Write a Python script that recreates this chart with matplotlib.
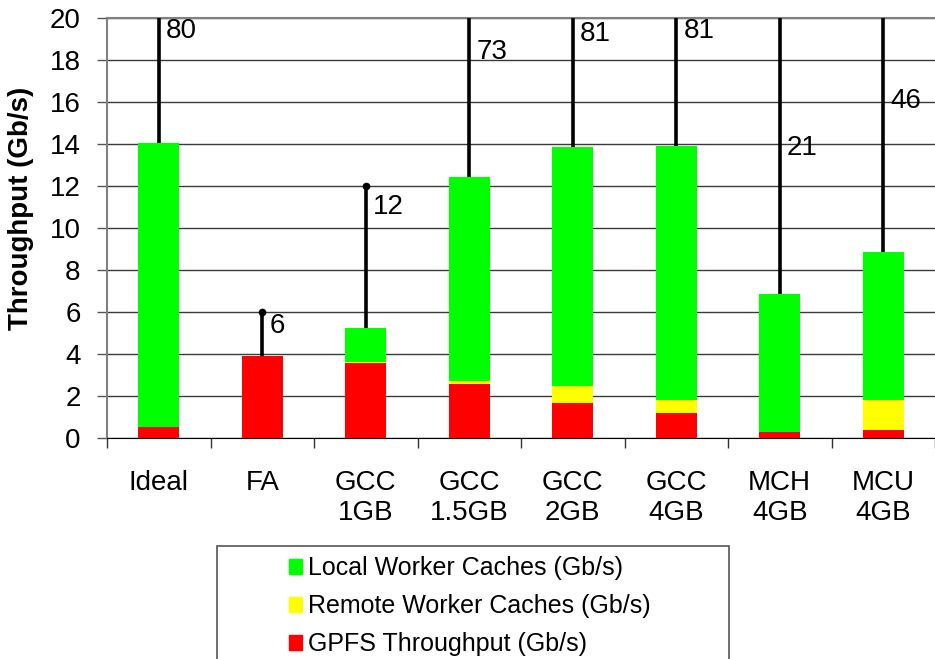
import matplotlib
matplotlib.use("Agg")
import matplotlib.pyplot as plt
import numpy as np
from matplotlib.patches import Patch, Rectangle

plt.rcParams["font.family"] = ["Liberation Sans", "DejaVu Sans"]

# ----- data (Gb/s) -----
categories = ["Ideal", "FA", "GCC\n1GB", "GCC\n1.5GB", "GCC\n2GB",
              "GCC\n4GB", "MCH\n4GB", "MCU\n4GB"]
gpfs = [0.52, 3.90, 3.56, 2.56, 1.67, 1.19, 0.30, 0.37]
remote = [0.00, 0.00, 0.04, 0.15, 0.82, 0.63, 0.00, 1.45]
local = [13.51, 0.00, 1.64, 9.72, 11.35, 12.08, 6.57, 7.02]
peak = [80, 6, 12, 73, 81, 81, 21, 46]          # upper end of the whisker
label_y = [19.38, 5.33, 11.02, 18.38, 19.26, 19.38, 13.79, 16.05]

GREEN, YELLOW, RED = "#00ff00", "#ffff00", "#ff0000"

W, H = 935, 659
fig = plt.figure(figsize=(W / 100, H / 100), dpi=100)
ax = fig.add_axes([107 / W, (H - 438) / H, 828 / W, 420 / H])

x = np.arange(len(categories))
gpfs = np.array(gpfs)
remote = np.array(remote)
local = np.array(local)
top = gpfs + remote + local

ax.bar(x, gpfs, width=0.4, color=RED, zorder=3, label="GPFS Throughput (Gb/s)")
ax.bar(x, remote, width=0.4, bottom=gpfs, color=YELLOW, zorder=3,
       label="Remote Worker Caches (Gb/s)")
ax.bar(x, local, width=0.4, bottom=gpfs + remote, color=GREEN, zorder=3,
       label="Local Worker Caches (Gb/s)")

# whiskers from the stack top up to the peak value (clipped at 20)
ax.vlines(x, top, peak, colors="black", lw=2.6, zorder=4)
ax.plot(x, peak, ls="none", marker="o", ms=4.5, color="black", zorder=4)

for xi, yl, p in zip(x, label_y, peak):
    ax.text(xi + 0.07, yl, str(p), fontsize=20, ha="left", va="center",
            zorder=5)

ax.set_ylim(0, 20)
ax.set_xlim(-0.5, -0.5 + 828 / 104.3)
ax.set_yticks(np.arange(0, 21, 2))
ax.yaxis.grid(True, color="#3a3a3a", lw=1.0, zorder=0)
ax.set_axisbelow(True)
ax.tick_params(axis="y", labelsize=20, length=7, width=1.0, color="#555555",
               pad=12)

ax.set_xticks(x)
ax.set_xticklabels(categories)
ax.set_xticks(np.arange(-0.5, len(categories), 1.0), minor=True)
ax.tick_params(axis="x", which="major", length=0, labelsize=20, pad=23)
ax.tick_params(axis="x", which="minor", length=7, width=1.0, color="#333333")

ax.spines["right"].set_visible(False)
ax.spines["top"].set_color("#808080")
ax.spines["top"].set_linewidth(1.5)
ax.spines["left"].set_color("#808080")
ax.spines["left"].set_linewidth(1.5)
ax.spines["bottom"].set_color("black")

ax.set_ylabel("Throughput (Gb/s)", fontsize=20, fontweight="bold")
ax.yaxis.set_label_coords((34 - 107) / 828, (438 - 208) / 420)

# legend with a frame that runs off the bottom edge
fig.patches.append(Rectangle((217 / W, -0.05), (729 - 217) / W, (H - 546) / H + 0.05,
                             transform=fig.transFigure, fill=False,
                             edgecolor="#555555", lw=1.2))
handles = [Patch(color=GREEN), Patch(color=YELLOW), Patch(color=RED)]
labels = ["Local Worker Caches (Gb/s)", "Remote Worker Caches (Gb/s)",
          "GPFS Throughput (Gb/s)"]
fig.legend(handles, labels, loc="upper left",
           bbox_to_anchor=(271 / W, (H - 539) / H), frameon=False,
           fontsize=18, handlelength=0.55, handleheight=0.55,
           handletextpad=0.25, labelspacing=0.56, borderpad=0.2)

fig.savefig("out.png", dpi=100)
